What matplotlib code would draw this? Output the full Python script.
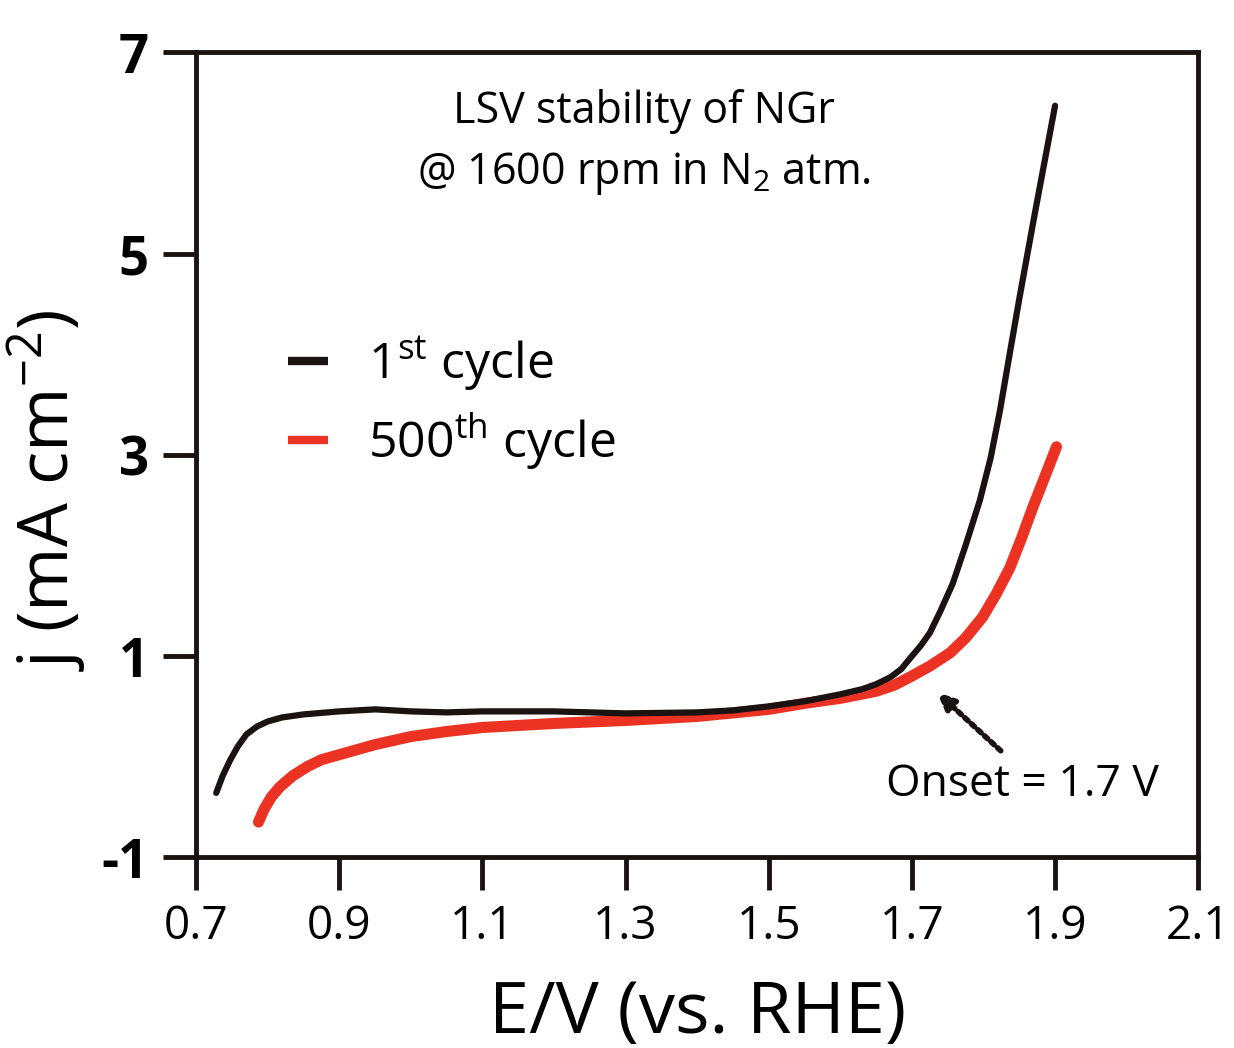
import matplotlib
matplotlib.use("Agg")
import matplotlib.pyplot as plt
from matplotlib import font_manager

# values
E_first = [0.728, 0.737, 0.747, 0.758, 0.77, 0.785, 0.80, 0.82, 0.85, 0.90, 0.95, 1.00,
           1.05, 1.10, 1.20, 1.30, 1.40, 1.45, 1.50, 1.55, 1.60, 1.63, 1.65, 1.67,
           1.685, 1.70, 1.712, 1.725, 1.74, 1.757, 1.775, 1.795, 1.81, 1.823, 1.837,
           1.85, 1.862, 1.872, 1.886, 1.90]
j_first = [-0.36, -0.19, -0.04, 0.10, 0.22, 0.30, 0.35, 0.39, 0.42, 0.45, 0.47, 0.45,
           0.44, 0.45, 0.45, 0.43, 0.44, 0.46, 0.50, 0.55, 0.62, 0.67, 0.72, 0.79,
           0.87, 1.00, 1.10, 1.23, 1.45, 1.72, 2.10, 2.55, 2.97, 3.44, 4.02,
           4.55, 5.02, 5.41, 5.94, 6.47]

E_500 = [0.787, 0.795, 0.805, 0.817, 0.835, 0.855, 0.875, 0.90, 0.95, 1.00, 1.05, 1.10,
         1.20, 1.30, 1.40, 1.50, 1.55, 1.60, 1.65, 1.675, 1.697, 1.725, 1.753,
         1.775, 1.799, 1.818, 1.837, 1.853, 1.869, 1.885, 1.902]
j_500 = [-0.65, -0.52, -0.40, -0.30, -0.19, -0.10, -0.03, 0.02, 0.12, 0.20, 0.25, 0.29,
         0.33, 0.36, 0.40, 0.47, 0.53, 0.58, 0.65, 0.71, 0.79, 0.90, 1.03,
         1.18, 1.39, 1.62, 1.88, 2.17, 2.48, 2.77, 3.08]

x_ticks = [0.7, 0.9, 1.1, 1.3, 1.5, 1.7, 1.9, 2.1]
y_ticks = [-1, 1, 3, 5, 7]

names = {f.name for f in font_manager.fontManager.ttflist}
main_font = "Open Sans" if "Open Sans" in names else "DejaVu Sans"
narrow_font = "Liberation Sans Narrow" if "Liberation Sans Narrow" in names else main_font

plt.rcParams["font.family"] = [main_font, "DejaVu Sans"]
plt.rcParams["mathtext.fontset"] = "custom"
plt.rcParams["mathtext.rm"] = main_font
plt.rcParams["mathtext.it"] = main_font
plt.rcParams["mathtext.default"] = "regular"

ink = "#1a1311"

fig, ax = plt.subplots(figsize=(12.34, 10.48), dpi=100)
fig.subplots_adjust(left=0.159, right=0.971, top=0.950, bottom=0.182)

ax.plot(E_500, j_500, color="#ec3323", lw=8, solid_capstyle="round",
        solid_joinstyle="round", label="500$^{th}$ cycle")
ax.plot(E_first, j_first, color=ink, lw=4.5, solid_capstyle="round",
        solid_joinstyle="round", label="1$^{st}$ cycle")

ax.set_xlim(0.7, 2.1)
ax.set_ylim(-1, 7)
ax.set_xticks(x_ticks)
ax.set_xticklabels([f"{v:.1f}" for v in x_ticks], family=narrow_font, fontsize=33)
ax.set_yticks(y_ticks)
ax.set_yticklabels([str(v) for v in y_ticks], fontweight="bold", fontsize=38)
ax.tick_params(direction="out", length=24, width=3.5, color=ink, pad=10)
ax.tick_params(top=False, right=False)
for s in ax.spines.values():
    s.set_linewidth(3.5)
    s.set_color(ink)

ax.set_xlabel("E/V (vs. RHE)", fontsize=52, labelpad=20)
ax.set_ylabel("j (mA cm$^{-2}$)", fontsize=50)
ax.yaxis.set_label_coords(-0.108, 0.456)

ax.text(1.325, 6.1, "LSV stability of NGr\n@ 1600 rpm in N$_2$ atm.",
        ha="center", va="center", fontsize=31, fontweight="medium", linespacing=1.45)

ax.annotate("", xy=(1.732, 0.66), xytext=(1.827, 0.04),
            arrowprops=dict(arrowstyle="-|>,head_length=1.0,head_width=0.45",
                            color=ink, lw=4, linestyle=(0, (0.8, 0.8))))
ax.text(1.854, -0.28, "Onset = 1.7 V", ha="center", va="center", fontsize=32,
        fontweight="medium")

handles, labels = ax.get_legend_handles_labels()
leg = ax.legend(handles[::-1], labels[::-1], loc="upper left",
                bbox_to_anchor=(0.047, 0.706), frameon=False, fontsize=36,
                handlelength=0.8, handletextpad=0.8, labelspacing=0.35)
for h in leg.get_lines():
    h.set_linewidth(6)
    h.set_solid_capstyle("butt")

fig.savefig("out.png", dpi=100)
